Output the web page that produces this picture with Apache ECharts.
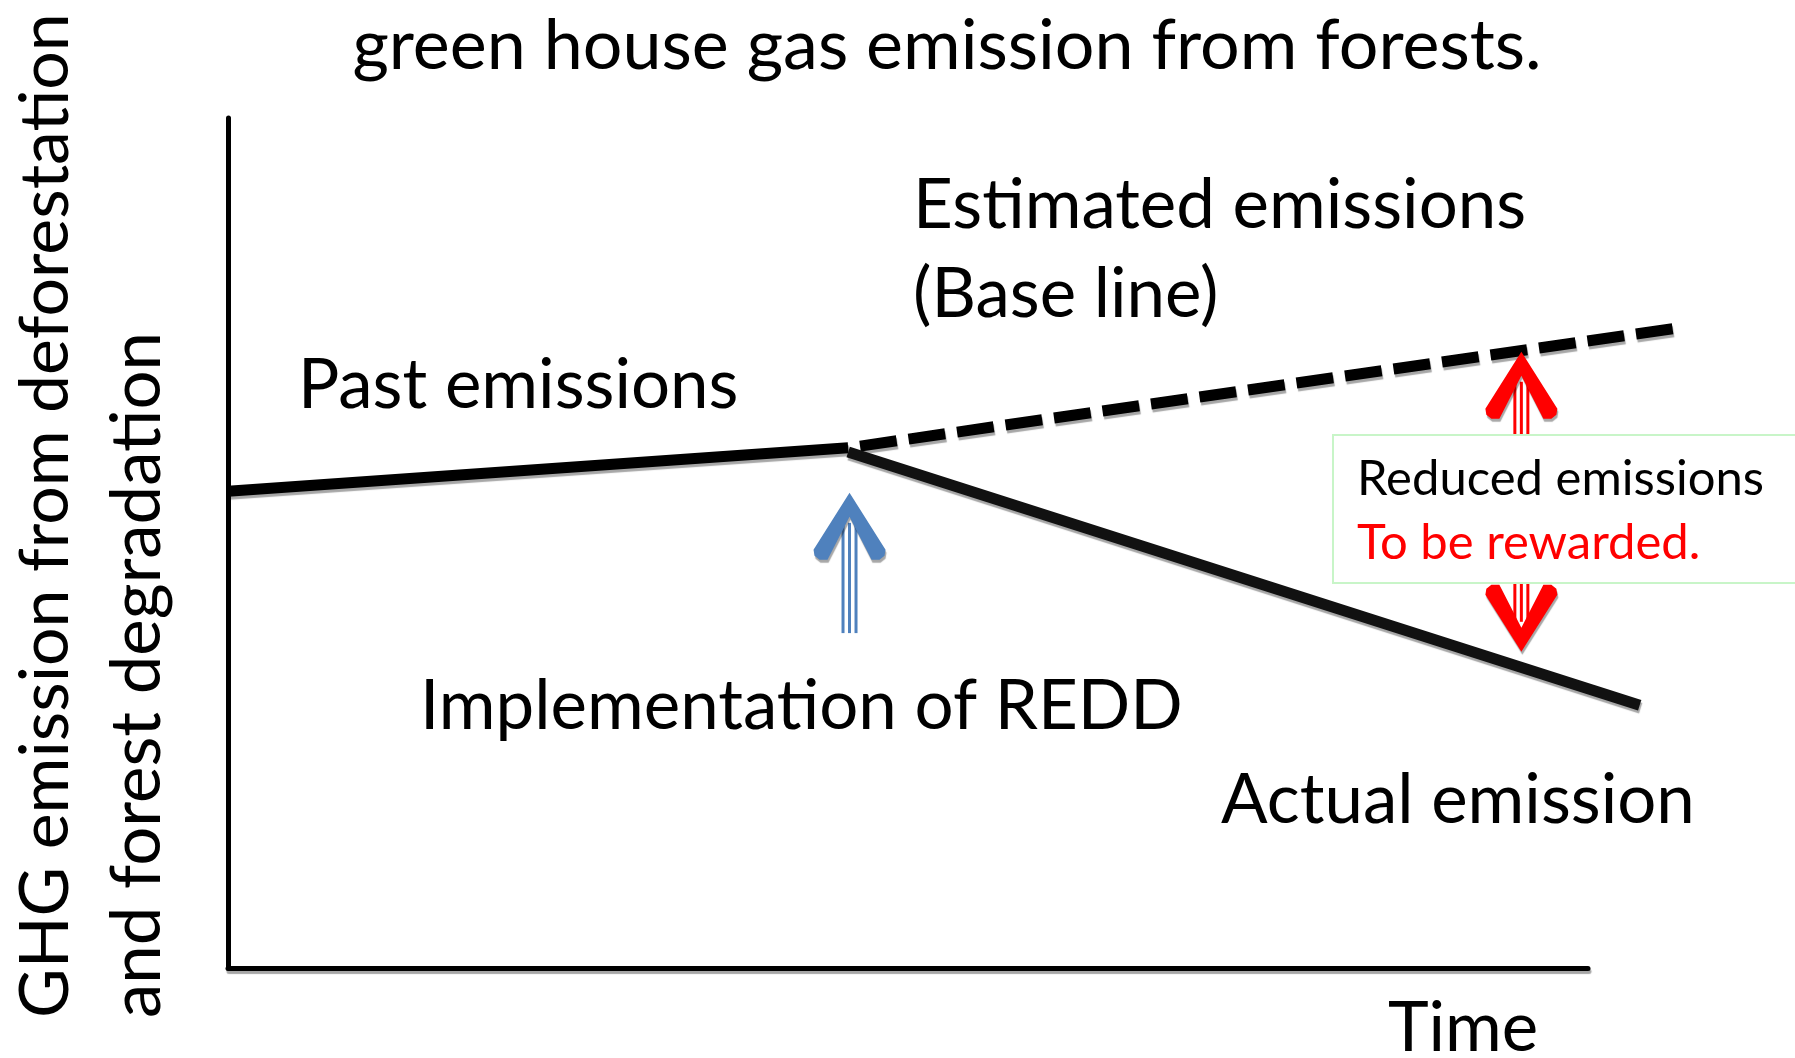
<!DOCTYPE html>
<html>
<head>
<meta charset="utf-8">
<title>REDD</title>
<script src="https://cdn.jsdelivr.net/npm/echarts@6/dist/echarts.min.js"></script>
<style>
  html, body { margin: 0; padding: 0; background: #fff; }
  #chart { width: 1795px; height: 1058px; }
</style>
</head>
<body>
<div id="chart"></div>
<script>
// values in arbitrary units: x = time (axis line drawn 0..100), y = emissions (0..100)
var pastX = [0, 45.6];
var pastY = [56.1, 61.2];
var baselineX = [45.6, 106.6];
var baselineY = [61.2, 75.3];
var actualX = [45.6, 103.8];
var actualY = [60.7, 30.9];
// arrows: [x, tip y, tail y]
var reddArrow = [[45.7, 55.9, 39.4]];
var rewardArrow = [[95.1, 72.5, 37.2]];

function zip(xs, ys) {
  var out = [];
  for (var i = 0; i < xs.length; i++) out.push([xs[i], ys[i]]);
  return out;
}

var shadow = { shadowColor: 'rgba(0,0,0,0.35)', shadowBlur: 1, shadowOffsetX: 1, shadowOffsetY: 3 };

function arrowHead(cx, ty, dir, color) {
  var pts = [[0, 0], [36, 57], [35, 63], [30, 67], [22, 67], [0, 24], [-22, 67], [-30, 67], [-35, 63], [-36, 57]];
  return {
    type: 'polygon',
    shape: { points: pts.map(function (p) { return [cx + p[0], ty + dir * p[1]]; }) },
    style: Object.assign({ fill: color }, shadow)
  };
}

function arrowRenderer(twoHeads) {
  return function (params, api) {
    var tip = api.coord([api.value(0), api.value(1)]);
    var tail = api.coord([api.value(0), api.value(2)]);
    var color = api.visual('color');
    var cx = tip[0];
    var y1 = tip[1] + 30;
    var y2 = twoHeads ? tail[1] - 30 : tail[1];
    var children = [];
    [-6.5, 0, 6.5].forEach(function (dx) {
      children.push({
        type: 'line',
        shape: { x1: cx + dx, y1: y1, x2: cx + dx, y2: y2 },
        style: { stroke: color, lineWidth: 3 }
      });
    });
    children.push(arrowHead(cx, tip[1], 1, color));
    if (twoHeads) children.push(arrowHead(cx, tail[1], -1, color));
    return { type: 'group', children: children };
  };
}

function label(text, x, y, size, color, align) {
  return {
    type: 'text', x: x, y: y, z: 110,
    style: {
      text: text, font: size + 'px Lato', fill: color || '#000',
      textAlign: align || 'left', textVerticalAlign: 'middle',
      align: align || 'left', verticalAlign: 'middle'
    }
  };
}

var myChart = echarts.init(document.getElementById('chart'));
var lineStyleBase = Object.assign({ color: '#000', width: 11 }, shadow);
var hiddenAxis = { show: false };

var option = {
  backgroundColor: '#fff',
  animation: false,
  grid: [
    // grid 0: only the two axis lines
    { left: 228, right: 207, top: 118, bottom: 90 },
    // grid 1: same scale, wider, so the lines may run past the axis end
    { left: 228, right: 71, top: 118, bottom: 90 }
  ],
  xAxis: [
    {
      gridIndex: 0, type: 'value', min: 0, max: 100,
      axisLine: { show: true, lineStyle: Object.assign({ color: '#000', width: 5 }, shadow) },
      axisTick: { show: false }, axisLabel: { show: false }, splitLine: { show: false }
    },
    Object.assign({ gridIndex: 1, type: 'value', min: 0, max: 110 }, hiddenAxis)
  ],
  yAxis: [
    {
      gridIndex: 0, type: 'value', min: 0, max: 100,
      axisLine: { show: true, lineStyle: { color: '#000', width: 5 } },
      axisTick: { show: false }, axisLabel: { show: false }, splitLine: { show: false }
    },
    Object.assign({ gridIndex: 1, type: 'value', min: 0, max: 100 }, hiddenAxis)
  ],
  series: [
    {
      name: 'Past emissions', type: 'line', data: zip(pastX, pastY),
      xAxisIndex: 1, yAxisIndex: 1,
      symbol: 'none', lineStyle: lineStyleBase
    },
    {
      name: 'Estimated emissions', type: 'line', data: zip(baselineX, baselineY),
      xAxisIndex: 1, yAxisIndex: 1,
      symbol: 'none',
      lineStyle: Object.assign({}, lineStyleBase, { type: [37, 12], dashOffset: 37 })
    },
    {
      name: 'Actual emission', type: 'line', data: zip(actualX, actualY),
      xAxisIndex: 1, yAxisIndex: 1,
      symbol: 'none',
      lineStyle: Object.assign({}, lineStyleBase, { color: '#111' })
    },
    {
      name: 'REDD', type: 'custom', data: reddArrow, z: 5,
      xAxisIndex: 1, yAxisIndex: 1,
      itemStyle: { color: '#4F81BD' }, renderItem: arrowRenderer(false)
    },
    {
      name: 'Reward', type: 'custom', data: rewardArrow, z: 5,
      xAxisIndex: 1, yAxisIndex: 1,
      itemStyle: { color: '#FF0000' }, renderItem: arrowRenderer(true)
    }
  ],
  graphic: [
    label('green house gas emission from forests.', 947, 46, 70, '#000', 'center'),
    label('Estimated emissions', 913, 206, 69),
    label('(Base line)', 913, 295, 69),
    label('Past emissions', 298, 386, 69),
    label('Implementation of REDD', 420, 707, 69),
    label('Actual emission', 1221, 801, 69),
    label('Time', 1388, 1029, 69),
    {
      type: 'rect', z: 100,
      shape: { x: 1333, y: 435, width: 470, height: 148 },
      style: { fill: '#fff', stroke: '#c8f5c8', lineWidth: 2 }
    },
    label('Reduced emissions', 1357, 479, 49),
    label('To be rewarded.', 1357, 543, 49, '#FF0000'),
    Object.assign(label('GHG emission from deforestation', 46, 1018, 68), { rotation: Math.PI / 2 }),
    Object.assign(label('and forest degradation', 138, 1018, 69), { rotation: Math.PI / 2 })
  ]
};
myChart.setOption(option);
</script>
</body>
</html>
